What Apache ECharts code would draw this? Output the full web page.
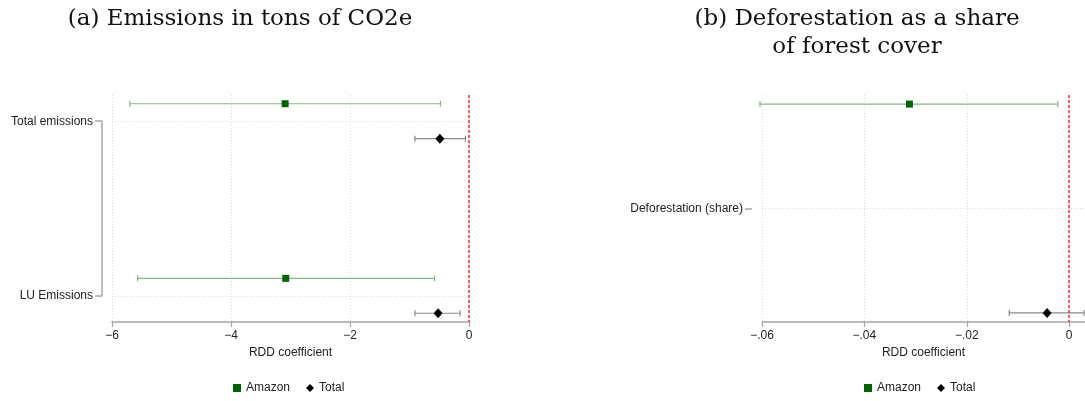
<!DOCTYPE html>
<html>
<head>
<meta charset="utf-8">
<script src="https://cdn.jsdelivr.net/npm/echarts@6/dist/echarts.min.js"></script>
<style>
html,body{margin:0;padding:0;background:#fff;}
#chart{width:1085px;height:401px;}
</style>
</head>
<body>
<div id="chart"></div>
<script>
// ---- Panel (a): emissions in tons of CO2e ----
var catsA = ['Total emissions', 'LU Emissions'];
var amazonCoefA = [-3.09, -3.08];
var amazonLoA   = [-5.70, -5.57];
var amazonHiA   = [-0.48, -0.58];
var totalCoefA  = [-0.49, -0.52];
var totalLoA    = [-0.91, -0.91];
var totalHiA    = [-0.06, -0.15];
var xTicksA = [-6, -4, -2, 0];

// ---- Panel (b): deforestation as a share of forest cover ----
var catsB = ['Deforestation (share)'];
var amazonCoefB = [-0.0312];
var amazonLoB   = [-0.0604];
var amazonHiB   = [-0.0022];
var totalCoefB  = [-0.0043];
var totalLoB    = [-0.0117];
var totalHiB    = [0.0029];
var xTicksB = [-0.06, -0.04, -0.02, 0];

// layout constants
var offA = 0.1, offB = 0.46;
var GREEN = '#006400', GREEN_CI = '#86b886', BLACK = '#000', GRAY_CI = '#8a8a8a';
var AXIS = '#a6a6a6', GRID = '#dcdcdc';

function minusFmt(v, dec) {
  var s = (Math.abs(v) < 1e-12) ? '0' : Math.abs(v).toFixed(dec);
  if (dec > 0 && Math.abs(v) < 1 && s !== '0') s = s.replace(/^0/, '');
  return (v < -1e-12 ? '\u2212' : '') + s;
}

function pts(coef, off) {
  return coef.map(function (c, i) { return [c, i + 1 + off]; });
}
function ci(lo, hi, off) {
  return lo.map(function (l, i) { return [l, hi[i], i + 1 + off]; });
}

function ciRender(color) {
  return function (params, api) {
    var a = api.coord([api.value(0), api.value(2)]);
    var b = api.coord([api.value(1), api.value(2)]);
    var h = 3;
    var st = { stroke: color, lineWidth: 1.2 };
    return {
      type: 'group',
      children: [
        { type: 'line', shape: { x1: a[0], y1: a[1], x2: b[0], y2: b[1] }, style: st },
        { type: 'line', shape: { x1: a[0], y1: a[1] - h, x2: a[0], y2: a[1] + h }, style: st },
        { type: 'line', shape: { x1: b[0], y1: b[1] - h, x2: b[0], y2: b[1] + h }, style: st }
      ]
    };
  };
}

function bracketRender(params, api) {
  var x = params.coordSys.x - 10;
  var p1 = api.coord([0, api.value(0)]);
  var p2 = api.coord([0, api.value(1)]);
  return { type: 'line', shape: { x1: x, y1: p1[1], x2: x, y2: p2[1] },
           style: { stroke: AXIS, lineWidth: 1.5 } };
}

var refLine = {
  silent: true, symbol: ['none', 'none'], label: { show: false }, z: 10,
  lineStyle: { color: '#ff2a2a', type: [3, 2], width: 1.5, opacity: 1 },
  data: [{ xAxis: 0 }]
};
function hGrid(cats) {
  return {
    silent: true, symbol: ['none', 'none'], label: { show: false },
    lineStyle: { color: GRID, type: [1, 2], width: 1 },
    data: cats.map(function (c, i) { return { yAxis: i + 1 }; })
  };
}

var labelStyle = { color: '#222', fontSize: 12, fontFamily: 'Liberation Sans, Arial, sans-serif' };
var titleStyle = { fontFamily: 'DejaVu Serif', fontWeight: 'normal', fontSize: 23, color: '#111', lineHeight: 28, align: 'center' };

var chart = echarts.init(document.getElementById('chart'), null, { renderer: 'canvas' });
chart.setOption({
  animation: false,
  backgroundColor: '#fff',
  title: [
    { text: '(a) Emissions in tons of CO2e', left: 235, top: 0, textAlign: 'center', textStyle: titleStyle },
    { text: '(b) Deforestation as a share\nof forest cover', left: 852, top: 0, textAlign: 'center', textStyle: titleStyle }
  ],
  legend: [
    { data: [{ name: 'Amazon', icon: 'rect' }, { name: 'Total', icon: 'diamond' }],
      left: 228, top: 377, itemWidth: 8, itemHeight: 8, itemGap: 16, textStyle: labelStyle },
    { data: [{ name: 'Amazon', icon: 'rect' }, { name: 'Total', icon: 'diamond' }],
      left: 859, top: 377, itemWidth: 8, itemHeight: 8, itemGap: 16, textStyle: labelStyle }
  ],
  grid: [
    { left: 112, right: 1085 - 469, top: 95, bottom: 401 - 322 },
    { left: 762, right: 0, top: 95, bottom: 401 - 322 }
  ],
  xAxis: [
    { type: 'value', gridIndex: 0, min: -6, max: 0, interval: 2,
      name: 'RDD coefficient', nameLocation: 'middle', nameGap: 25, nameTextStyle: labelStyle,
      axisLine: { show: true, onZero: false, lineStyle: { color: AXIS, width: 1.5 } },
      axisTick: { show: true, length: 5, lineStyle: { color: AXIS, width: 1.2 } },
      axisLabel: Object.assign({ margin: 8, formatter: function (v) { return minusFmt(v, 0); } }, labelStyle),
      splitLine: { show: true, lineStyle: { color: GRID, type: [1, 2] } } },
    { type: 'value', gridIndex: 1, min: -0.06, max: 0.0031, interval: 0.02,
      name: 'RDD coefficient', nameLocation: 'middle', nameGap: 25, nameTextStyle: labelStyle,
      axisLine: { show: true, onZero: false, lineStyle: { color: AXIS, width: 1.5 } },
      axisTick: { show: true, length: 5, lineStyle: { color: AXIS, width: 1.2 } },
      axisLabel: Object.assign({ margin: 8, showMaxLabel: false, formatter: function (v) {
        for (var i = 0; i < xTicksB.length; i++) if (Math.abs(v - xTicksB[i]) < 1e-9) return minusFmt(v, 2);
        return '';
      } }, labelStyle),
      splitLine: { show: true, lineStyle: { color: GRID, type: [1, 2] } } }
  ],
  yAxis: [
    { type: 'value', gridIndex: 0, inverse: true, min: 0.85, max: 2.15, offset: 10, position: 'left',
      axisLine: { show: false, onZero: false },
      axisTick: { show: true, length: 7, customValues: [1, 2], lineStyle: { color: AXIS, width: 1.5 } },
      axisLabel: Object.assign({ margin: 9, customValues: [1, 2],
        formatter: function (v) { return catsA[Math.round(v) - 1] || ''; } }, labelStyle),
      splitLine: { show: false } },
    { type: 'value', gridIndex: 1, inverse: true, min: 0.5, max: 1.5, offset: 10, position: 'left',
      axisLine: { show: false, onZero: false },
      axisTick: { show: true, length: 7, customValues: [1], lineStyle: { color: AXIS, width: 1.5 } },
      axisLabel: Object.assign({ margin: 9, customValues: [1],
        formatter: function (v) { return catsB[Math.round(v) - 1] || ''; } }, labelStyle),
      splitLine: { show: false } }
  ],
  series: [
    // panel a
    { type: 'custom', name: 'gridA', xAxisIndex: 0, yAxisIndex: 0, data: [], renderItem: function () { return null; },
      markLine: hGrid(catsA), silent: true },
    { type: 'custom', name: 'bracketA', xAxisIndex: 0, yAxisIndex: 0, clip: false, silent: true,
      data: [[1, catsA.length]], renderItem: bracketRender },
    { type: 'custom', name: 'Amazon', xAxisIndex: 0, yAxisIndex: 0, silent: true,
      itemStyle: { color: GREEN }, data: ci(amazonLoA, amazonHiA, -offA), renderItem: ciRender(GREEN_CI),
      markLine: refLine },
    { type: 'custom', name: 'Total', xAxisIndex: 0, yAxisIndex: 0, silent: true,
      itemStyle: { color: BLACK }, data: ci(totalLoA, totalHiA, offA), renderItem: ciRender(GRAY_CI) },
    { type: 'scatter', name: 'Amazon', xAxisIndex: 0, yAxisIndex: 0, symbol: 'rect', symbolSize: 7,
      itemStyle: { color: GREEN, opacity: 1 }, data: pts(amazonCoefA, -offA), z: 5 },
    { type: 'scatter', name: 'Total', xAxisIndex: 0, yAxisIndex: 0, symbol: 'diamond', symbolSize: [9, 10],
      itemStyle: { color: BLACK, opacity: 1 }, data: pts(totalCoefA, offA), z: 5 },
    // panel b
    { type: 'custom', name: 'gridB', xAxisIndex: 1, yAxisIndex: 1, data: [], renderItem: function () { return null; },
      markLine: hGrid(catsB), silent: true },
    { type: 'custom', name: 'Amazon', xAxisIndex: 1, yAxisIndex: 1, silent: true, clip: false,
      itemStyle: { color: GREEN }, data: ci(amazonLoB, amazonHiB, -offB), renderItem: ciRender(GREEN_CI),
      markLine: refLine },
    { type: 'custom', name: 'Total', xAxisIndex: 1, yAxisIndex: 1, silent: true, clip: false,
      itemStyle: { color: BLACK }, data: ci(totalLoB, totalHiB, offB), renderItem: ciRender(GRAY_CI) },
    { type: 'scatter', name: 'Amazon', xAxisIndex: 1, yAxisIndex: 1, symbol: 'rect', symbolSize: 7,
      itemStyle: { color: GREEN, opacity: 1 }, data: pts(amazonCoefB, -offB), z: 5 },
    { type: 'scatter', name: 'Total', xAxisIndex: 1, yAxisIndex: 1, symbol: 'diamond', symbolSize: [9, 10],
      itemStyle: { color: BLACK, opacity: 1 }, data: pts(totalCoefB, offB), z: 5 }
  ]
});
</script>
</body>
</html>
